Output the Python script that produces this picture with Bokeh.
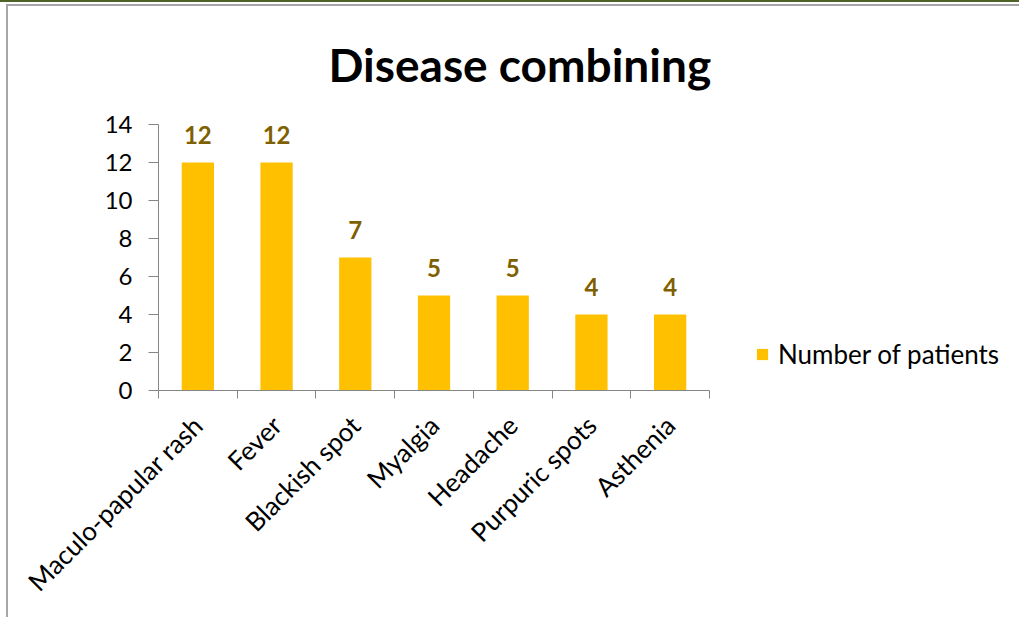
import math
from bokeh.plotting import figure
from bokeh.models import (ColumnDataSource, Range1d, LinearAxis,
                          FixedTicker, LabelSet, Legend, LegendItem)
from bokeh.core.properties import value
from bokeh.embed import file_html
from bokeh.resources import INLINE

categories = ["Maculo-papular rash", "Fever", "Blackish spot", "Myalgia",
              "Headache", "Purpuric spots", "Asthenia"]
patients = [12, 12, 7, 5, 5, 4, 4]
y_ticks = [0, 2, 4, 6, 8, 10, 12, 14]
series_name = "Number of patients"
title_text = "Disease combining"

FONT = "Lato"

n = len(categories)
xpos = [i + 0.5 for i in range(n)]
src = ColumnDataSource(dict(x=xpos, cat=categories, val=patients,
                            lab=[str(v) for v in patients]))

p = figure(x_range=Range1d(0, n), y_range=Range1d(0, 14),
           width=1019, height=617, frame_width=551, frame_height=266,
           min_border_left=158, min_border_right=310, min_border_top=124,
           min_border_bottom=227,
           x_axis_location=None, y_axis_location=None,
           output_backend="svg", toolbar_location=None)
p.outline_line_color = None
p.xgrid.grid_line_color = None
p.ygrid.grid_line_color = None
p.background_fill_color = "white"
p.border_fill_color = None
p.styles = {
    "background-color": "white",
    "background-image": ("linear-gradient(#4F6228,#4F6228), "
                         "linear-gradient(#A6A6A6,#A6A6A6), "
                         "linear-gradient(#A6A6A6,#A6A6A6)"),
    "background-size": "100% 2px, 100% 2px, 2px 100%",
    "background-position": "0 0, 7px 4px, 6px 4px",
    "background-repeat": "no-repeat",
}

# title
p.title.text = title_text
p.title.align = "left"
p.title.offset = 170
p.title.standoff = 66
p.title.text_font = FONT
p.title.text_font_style = "bold"
p.title.text_font_size = "46px"
p.title.text_color = "#000000"

# y axis
yax = LinearAxis(ticker=FixedTicker(ticks=y_ticks))
yax.axis_line_color = "#868686"
yax.major_tick_line_color = "#868686"
yax.major_tick_out = 10
yax.major_tick_in = 0
yax.minor_tick_line_color = None
yax.major_label_text_font = FONT
yax.major_label_text_font_size = "24px"
yax.major_label_text_color = "#000000"
yax.major_label_standoff = 16
p.add_layout(yax, "left")

# x axis: labels at category centres, tick marks at category boundaries
xax = LinearAxis(ticker=FixedTicker(ticks=xpos, minor_ticks=list(range(n + 1))))
xax.axis_line_color = "#868686"
xax.major_tick_line_color = None
xax.minor_tick_line_color = "#868686"
xax.minor_tick_out = 8
xax.minor_tick_in = 0
xax.major_label_overrides = {x: c for x, c in zip(xpos, categories)}
xax.major_label_orientation = math.pi / 4
xax.major_label_text_font = FONT
xax.major_label_text_font_size = "26px"
xax.major_label_text_color = "#000000"
xax.major_label_standoff = 22
p.add_layout(xax, "below")

r = p.vbar(x="x", top="val", width=0.41, source=src,
           fill_color="#FFC000", line_color=None)

labels = LabelSet(x="x", y="val", text="lab", source=src, y_offset=19,
                  text_align="center", text_baseline="alphabetic",
                  text_font=value(FONT), text_font_style="bold",
                  text_font_size="24px", text_color="#7F6000")
p.add_layout(labels)

legend = Legend(items=[LegendItem(label=series_name, renderers=[r])],
                location=(46, 20), orientation="vertical",
                glyph_width=14, glyph_height=14, padding=0, margin=0,
                label_standoff=9, spacing=0,
                label_text_font=FONT, label_text_font_size="26px",
                label_text_color="#000000",
                border_line_color=None, background_fill_alpha=0)
p.add_layout(legend, "right")

open("out.html", "w").write(file_html(p, INLINE))
